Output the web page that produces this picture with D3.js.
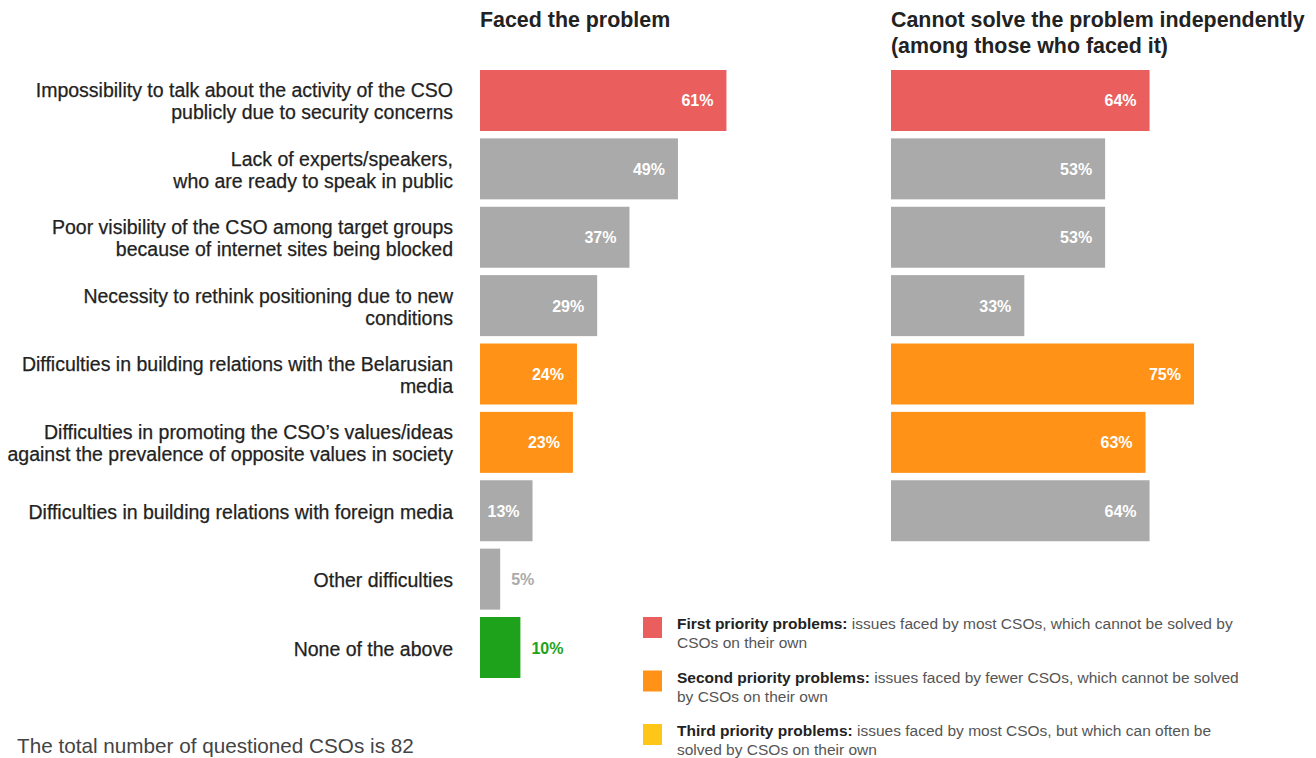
<!DOCTYPE html>
<html>
<head>
<meta charset="utf-8">
<script src="https://cdn.jsdelivr.net/npm/d3@7"></script>
<style>
  html, body { margin: 0; padding: 0; background: #fff; }
  svg { display: block; font-family: "Liberation Sans", Arial, Helvetica, sans-serif; }
</style>
</head>
<body>
<svg id="chart" width="1316" height="758"></svg>
<script>
// Problem statements (each entry is one or two text lines)
const categories = [
  ["Impossibility to talk about the activity of the CSO", "publicly due to security concerns"],
  ["Lack of experts/speakers,", "who are ready to speak in public"],
  ["Poor visibility of the CSO among target groups", "because of internet sites being blocked"],
  ["Necessity to rethink positioning due to new", "conditions"],
  ["Difficulties in building relations with the Belarusian", "media"],
  ["Difficulties in promoting the CSO’s values/ideas", "against the prevalence of opposite values in society"],
  ["Difficulties in building relations with foreign media"],
  ["Other difficulties"],
  ["None of the above"]
];

// Share of CSOs that faced each problem (%)
const facedValues = [61, 49, 37, 29, 24, 23, 13, 5, 10];
// Share that cannot solve it independently, among those who faced it (%)
const cannotSolveValues = [64, 53, 53, 33, 75, 63, 64];
// Priority group of each row
const priority = ["first", "other", "other", "other", "second", "second", "other", "other", "none"];

const panelTitles = [["Faced the problem"], ["Cannot solve the problem independently", "(among those who faced it)"]];

const legendItems = [
  { key: "first", bold: "First priority problems:", text: " issues faced by most CSOs, which cannot be solved by", line2: "CSOs on their own" },
  { key: "second", bold: "Second priority problems:", text: " issues faced by fewer CSOs, which cannot be solved", line2: "by CSOs on their own" },
  { key: "third", bold: "Third priority problems:", text: " issues faced by most CSOs, but which can often be", line2: "solved by CSOs on their own" }
];

const footnote = "The total number of questioned CSOs is 82";

const colors = { first: "#EA5E5E", second: "#FF9217", third: "#FFC61A", other: "#AAAAAA", none: "#1EA21B" };

const svg = d3.select("#chart");

const y = d3.scaleBand()
  .domain(d3.range(categories.length))
  .range([70, 678])
  .paddingInner(0.108)
  .paddingOuter(0);

const x = d3.scaleLinear().domain([0, 100]).range([0, 404]);

const leftX = 480, rightX = 891;

// Row labels
const labels = svg.append("g").attr("class", "row-labels");
categories.forEach((lines, i) => {
  const cy = y(i) + y.bandwidth() / 2;
  const lh = 22;
  const t = labels.append("text")
    .attr("x", 453)
    .attr("text-anchor", "end")
    .attr("fill", "#222")
    .attr("stroke", "#222")
    .attr("stroke-width", 0.25)
    .style("font-size", "19.5px");
  lines.forEach((ln, j) => {
    t.append("tspan")
      .attr("x", 453)
      .attr("y", cy + (j - (lines.length - 1) / 2) * lh + 8)
      .text(ln);
  });
});

// Panel titles
[leftX, rightX].forEach((px, k) => {
  const t = svg.append("text")
    .attr("x", px)
    .attr("fill", "#222")
    .style("font-size", "21.4px")
    .style("font-weight", "bold");
  panelTitles[k].forEach((ln, j) => {
    t.append("tspan").attr("x", px).attr("y", 27 + j * 26).text(ln);
  });
});

function drawPanel(values, originX) {
  const g = svg.append("g").attr("transform", `translate(${originX},0)`);
  values.forEach((v, i) => {
    const w = x(v);
    g.append("rect")
      .attr("x", 0)
      .attr("y", y(i))
      .attr("width", w)
      .attr("height", y.bandwidth())
      .attr("fill", colors[priority[i]]);
    const inside = priority[i] !== "none" && w > 40;
    g.append("text")
      .attr("x", inside ? w - 13 : w + 11)
      .attr("y", y(i) + y.bandwidth() / 2 + 6)
      .attr("text-anchor", inside ? "end" : "start")
      .attr("fill", inside ? "#fff" : colors[priority[i]])
      .style("font-size", "16px")
      .style("font-weight", "bold")
      .text(v + "%");
  });
}

drawPanel(facedValues, leftX);
drawPanel(cannotSolveValues, rightX);

// Legend
const legend = svg.append("g").attr("class", "legend");
legendItems.forEach((it, i) => {
  const top = 617 + i * 53.5;
  legend.append("rect")
    .attr("x", 643).attr("y", top)
    .attr("width", 19).attr("height", 21)
    .attr("fill", colors[it.key]);
  const t = legend.append("text")
    .attr("x", 677).attr("y", top + 12)
    .style("font-size", "15.5px")
    .attr("fill", "#555");
  t.append("tspan").attr("font-weight", "bold").attr("fill", "#222").text(it.bold);
  t.append("tspan").text(it.text);
  legend.append("text")
    .attr("x", 677).attr("y", top + 31)
    .style("font-size", "15.5px")
    .attr("fill", "#555")
    .text(it.line2);
});

// Footnote
svg.append("text")
  .attr("x", 17).attr("y", 753)
  .attr("fill", "#444")
  .style("font-size", "20.7px")
  .style("font-weight", "300")
  .text(footnote);
</script>
</body>
</html>
